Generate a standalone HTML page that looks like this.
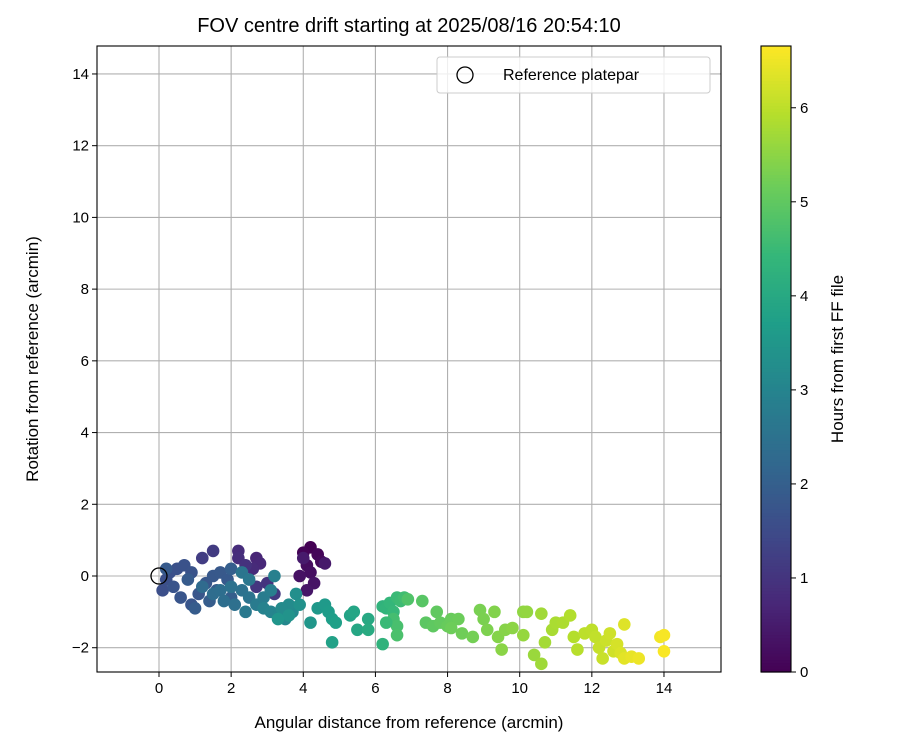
<!DOCTYPE html>
<html><head><meta charset="utf-8"><style>
body{margin:0;background:#fff}
svg{display:block;font-family:"Liberation Sans","DejaVu Sans",sans-serif}
</style></head><body>
<svg id="c" width="900" height="750" viewBox="0 0 900 750"></svg>
<script>
const xs=[4.2,4.0,4.4,4.5,4.1,4.2,3.9,4.3,4.1,4.6,4.0,
2.7,2.8,2.6,2.2,2.2,2.4,3.0,2.7,3.2,1.5,1.2,
0.1,0.2,0.3,0.5,0.7,0.9,0.4,0.6,0.9,1.1,1.3,1.5,1.7,1.9,0.2,0.8,1.0,1.4,1.6,2.0,2.0,
1.2,1.5,1.8,2.1,2.3,2.5,2.3,2.5,2.4,2.7,2.9,3.1,3.2,2.9,3.1,3.3,3.5,3.7,3.6,1.7,2.0,
3.4,3.8,3.9,3.6,3.3,4.2,4.4,4.6,4.7,4.8,4.9,4.8,5.3,5.4,5.5,5.8,5.8,
6.2,6.3,6.4,6.5,6.6,6.7,6.8,6.5,6.6,6.6,6.2,6.3,6.9,
7.3,7.4,7.6,7.7,7.8,8.0,8.1,8.3,8.1,8.4,8.7,8.9,9.0,
9.1,9.3,9.4,9.6,9.5,9.8,10.1,10.2,10.1,10.4,10.6,10.6,10.7,10.9,
11.0,11.2,11.4,11.5,11.6,11.8,12.0,12.1,12.2,12.3,12.4,12.5,12.6,
12.7,12.8,12.9,12.9,13.1,13.3,13.9,14.0,14.0];
const ys=[0.8,0.65,0.6,0.4,0.3,0.1,0.0,-0.2,-0.4,0.35,0.5,
0.5,0.35,0.2,0.7,0.5,0.3,-0.2,-0.3,-0.5,0.7,0.5,
-0.4,-0.1,0.1,0.2,0.3,0.1,-0.3,-0.6,-0.8,-0.5,-0.2,0.0,0.1,-0.1,0.2,-0.1,-0.9,-0.7,-0.4,-0.6,0.2,
-0.3,-0.5,-0.7,-0.8,-0.4,-0.6,0.1,-0.1,-1.0,-0.8,-0.6,-0.4,0.0,-0.9,-1.0,-1.1,-1.2,-1.0,-0.8,-0.4,-0.3,
-0.9,-0.5,-0.8,-1.1,-1.2,-1.3,-0.9,-0.8,-1.0,-1.2,-1.3,-1.85,-1.1,-1.0,-1.5,-1.2,-1.5,
-0.85,-0.9,-0.75,-1.0,-0.6,-0.7,-0.6,-1.2,-1.4,-1.65,-1.9,-1.3,-0.65,
-0.7,-1.3,-1.4,-1.0,-1.3,-1.4,-1.2,-1.2,-1.45,-1.6,-1.7,-0.95,-1.2,
-1.5,-1.0,-1.7,-1.5,-2.05,-1.45,-1.0,-1.0,-1.65,-2.2,-2.45,-1.05,-1.85,-1.5,
-1.3,-1.3,-1.1,-1.7,-2.05,-1.6,-1.5,-1.7,-2.0,-2.3,-1.8,-1.6,-2.1,
-1.9,-2.15,-1.35,-2.3,-2.25,-2.3,-1.7,-1.65,-2.1];
const hrs=[0.0,0.05,0.1,0.15,0.2,0.25,0.3,0.35,0.4,0.45,0.5,
0.7,0.75,0.8,0.85,0.9,0.95,1.0,1.05,1.1,1.15,1.2,
1.6,1.62,1.64,1.66,1.68,1.7,1.72,1.74,1.76,1.78,1.8,1.82,1.84,1.86,1.88,1.9,1.92,1.94,1.96,1.98,2.0,
2.3,2.35,2.4,2.45,2.5,2.55,2.6,2.65,2.7,2.75,2.8,2.85,2.9,2.95,3.0,3.05,3.1,3.15,3.2,2.4,2.5,
3.2,3.3,3.35,3.4,3.45,3.5,3.55,3.6,3.65,3.7,3.75,3.8,3.85,3.9,3.95,4.0,4.05,
4.3,4.35,4.4,4.45,4.5,4.55,4.6,4.65,4.7,4.75,4.3,4.5,4.8,
4.9,4.95,5.0,5.02,5.05,5.1,5.12,5.15,5.18,5.2,5.25,5.3,5.32,
5.35,5.4,5.42,5.45,5.48,5.5,5.55,5.58,5.6,5.65,5.7,5.72,5.75,5.8,
5.82,5.85,5.9,5.92,5.95,6.0,6.02,6.05,6.1,6.12,6.15,6.18,6.2,
6.25,6.3,6.35,6.4,6.45,6.5,6.55,6.6,6.62];
const xTicks=[0,2,4,6,8,10,12,14];
const yTicks=[-2,0,2,4,6,8,10,12,14];
const cTicks=[0,1,2,3,4,5,6];
const L=97,R=721,T=46,B=672;
const X=v=>159+v*36.07, Y=v=>576-v*35.86;
const CMAX=6.66, CY=v=>672-v*94.04;
const stops=[[68,1,84],[72,40,120],[62,74,137],[49,104,142],[38,130,142],[31,158,137],[53,183,121],[109,205,89],[180,222,44],[253,231,37]];
function vir(t){t=Math.max(0,Math.min(1,t))*(stops.length-1);const i=Math.min(stops.length-2,Math.floor(t)),f=t-i;const a=stops[i],b=stops[i+1];return `rgb(${a.map((v,k)=>Math.round(v+(b[k]-v)*f)).join(',')})`;}
const svg=document.getElementById('c');const NS='http://www.w3.org/2000/svg';
function mk(tag,at,txt){const e=document.createElementNS(NS,tag);for(const k in at)e.setAttribute(k,at[k]);if(txt!==undefined)e.textContent=txt;svg.appendChild(e);return e;}
let e;
xTicks.forEach(v=>{e=mk('line',{x1:X(v),x2:X(v),y1:T,y2:B,stroke:'#b0b0b0','stroke-width':1.1});

});
yTicks.forEach(v=>{e=mk('line',{x1:L,x2:R,y1:Y(v),y2:Y(v),stroke:'#b0b0b0','stroke-width':1.1});

});
xs.forEach((v,i)=>{e=mk('circle',{cx:X(v),cy:Y(ys[i]),r:6.3,fill:vir(hrs[i]/CMAX)});

});
e=mk('circle',{cx:X(0),cy:Y(0),r:8,fill:'none',stroke:'#000','stroke-width':1.3});


e=mk('rect',{x:L,y:T,width:R-L,height:B-T,fill:'none',stroke:'#000','stroke-width':1.1});


xTicks.forEach(v=>{mk('line',{x1:X(v),x2:X(v),y1:B,y2:B+5,stroke:'#000'});
e=mk('text',{x:X(v),y:B+21,'text-anchor':'middle','font-size':15},String(v));

});
yTicks.forEach(v=>{mk('line',{x1:L-5,x2:L,y1:Y(v),y2:Y(v),stroke:'#000'});
e=mk('text',{x:L-8,y:Y(v)+5,'text-anchor':'end','font-size':15},v<0?'\u2212'+(-v):String(v));

});
e=mk('text',{x:409,y:728,'text-anchor':'middle','font-size':17},'Angular distance from reference (arcmin)');


e=mk('text',{x:38,y:359,'text-anchor':'middle','font-size':17,transform:'rotate(-90 38 359)'},'Rotation from reference (arcmin)');


e=mk('text',{x:409,y:32,'text-anchor':'middle','font-size':20},'FOV centre drift starting at 2025/08/16 20:54:10');


e=mk('rect',{x:437,y:57,width:273,height:36,rx:3,fill:'#fff','fill-opacity':0.8,stroke:'#ccc'});


mk('circle',{cx:465,cy:75,r:8,fill:'none',stroke:'#000','stroke-width':1.3});
e=mk('text',{x:503,y:80,'font-size':16},'Reference platepar');


for(let i=0;i<200;i++){const y0=B-(i+1)*(B-T)/200;mk('rect',{x:761,y:y0,width:30,height:(B-T)/200+0.6,fill:vir((i+0.5)/200)});}
e=mk('rect',{x:761,y:T,width:30,height:B-T,fill:'none',stroke:'#000','stroke-width':1.1});


cTicks.forEach(v=>{mk('line',{x1:791,x2:796,y1:CY(v),y2:CY(v),stroke:'#000'});
e=mk('text',{x:800,y:CY(v)+5,'font-size':15},String(v));

});
e=mk('text',{x:843,y:359,'text-anchor':'middle','font-size':17,transform:'rotate(-90 843 359)'},'Hours from first FF file');


</script>
</body></html>
